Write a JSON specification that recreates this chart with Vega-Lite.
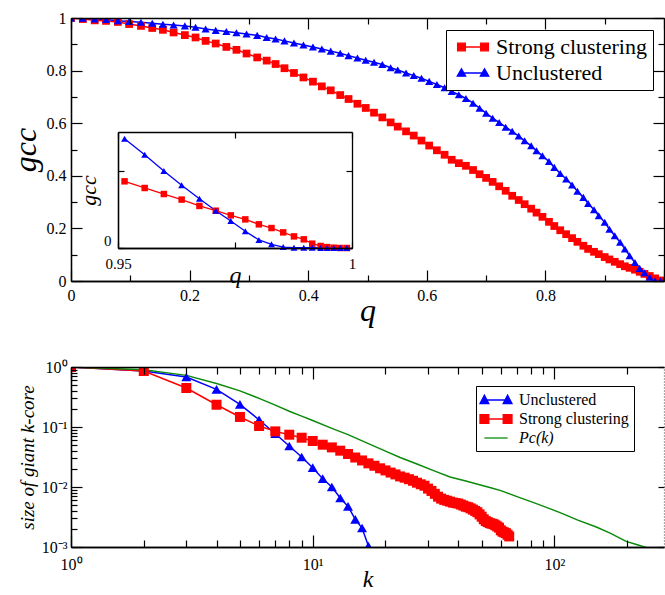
{
  "$schema": "https://vega.github.io/schema/vega-lite/v6.json",
  "background": "white",
  "padding": {"left": 9, "top": 10, "right": 0, "bottom": 0},
  "config": {
    "view": {"stroke": null},
    "font": "Liberation Serif",
    "axis": {"grid": false, "domainColor": "black", "domainWidth": 1.3, "labelColor": "black", "titleColor": "black", "labelFont": "Liberation Serif", "titleFont": "Liberation Serif", "titleFontWeight": "normal", "titleFontStyle": "italic", "labelOverlap": false, "labelFlush": false},
    "legend": {"labelFont": "Liberation Serif", "labelColor": "black"}
  },
  "datasets": {
    "topdata": [
      {"q":0,"Strong clustering":1,"Unclustered":1},
      {"q":0.02,"Strong clustering":0.996,"Unclustered":0.999},
      {"q":0.04,"Strong clustering":0.991,"Unclustered":0.996},
      {"q":0.059,"Strong clustering":0.989,"Unclustered":0.994},
      {"q":0.079,"Strong clustering":0.985,"Unclustered":0.99},
      {"q":0.098,"Strong clustering":0.977,"Unclustered":0.987},
      {"q":0.118,"Strong clustering":0.97,"Unclustered":0.984},
      {"q":0.137,"Strong clustering":0.962,"Unclustered":0.98},
      {"q":0.155,"Strong clustering":0.955,"Unclustered":0.976},
      {"q":0.173,"Strong clustering":0.945,"Unclustered":0.973},
      {"q":0.192,"Strong clustering":0.935,"Unclustered":0.97},
      {"q":0.21,"Strong clustering":0.926,"Unclustered":0.965},
      {"q":0.227,"Strong clustering":0.913,"Unclustered":0.958},
      {"q":0.244,"Strong clustering":0.903,"Unclustered":0.953},
      {"q":0.262,"Strong clustering":0.89,"Unclustered":0.949},
      {"q":0.279,"Strong clustering":0.879,"Unclustered":0.944},
      {"q":0.296,"Strong clustering":0.865,"Unclustered":0.939},
      {"q":0.314,"Strong clustering":0.85,"Unclustered":0.934},
      {"q":0.33,"Strong clustering":0.838,"Unclustered":0.926},
      {"q":0.345,"Strong clustering":0.825,"Unclustered":0.92},
      {"q":0.36,"Strong clustering":0.809,"Unclustered":0.913},
      {"q":0.376,"Strong clustering":0.791,"Unclustered":0.905},
      {"q":0.392,"Strong clustering":0.774,"Unclustered":0.897},
      {"q":0.408,"Strong clustering":0.758,"Unclustered":0.89},
      {"q":0.423,"Strong clustering":0.74,"Unclustered":0.882},
      {"q":0.438,"Strong clustering":0.725,"Unclustered":0.874},
      {"q":0.454,"Strong clustering":0.707,"Unclustered":0.866},
      {"q":0.468,"Strong clustering":0.692,"Unclustered":0.857},
      {"q":0.483,"Strong clustering":0.674,"Unclustered":0.848},
      {"q":0.497,"Strong clustering":0.658,"Unclustered":0.839},
      {"q":0.511,"Strong clustering":0.64,"Unclustered":0.832},
      {"q":0.525,"Strong clustering":0.622,"Unclustered":0.823},
      {"q":0.539,"Strong clustering":0.603,"Unclustered":0.811},
      {"q":0.551,"Strong clustering":0.587,"Unclustered":0.802},
      {"q":0.565,"Strong clustering":0.569,"Unclustered":0.791},
      {"q":0.578,"Strong clustering":0.553,"Unclustered":0.781},
      {"q":0.591,"Strong clustering":0.534,"Unclustered":0.771},
      {"q":0.604,"Strong clustering":0.515,"Unclustered":0.759},
      {"q":0.617,"Strong clustering":0.497,"Unclustered":0.747},
      {"q":0.63,"Strong clustering":0.48,"Unclustered":0.735},
      {"q":0.642,"Strong clustering":0.461,"Unclustered":0.721},
      {"q":0.654,"Strong clustering":0.448,"Unclustered":0.708},
      {"q":0.666,"Strong clustering":0.438,"Unclustered":0.694},
      {"q":0.678,"Strong clustering":0.422,"Unclustered":0.676},
      {"q":0.689,"Strong clustering":0.406,"Unclustered":0.657},
      {"q":0.7,"Strong clustering":0.392,"Unclustered":0.638},
      {"q":0.711,"Strong clustering":0.377,"Unclustered":0.619},
      {"q":0.722,"Strong clustering":0.36,"Unclustered":0.603},
      {"q":0.733,"Strong clustering":0.343,"Unclustered":0.585},
      {"q":0.744,"Strong clustering":0.324,"Unclustered":0.569},
      {"q":0.755,"Strong clustering":0.308,"Unclustered":0.551},
      {"q":0.765,"Strong clustering":0.292,"Unclustered":0.533},
      {"q":0.776,"Strong clustering":0.275,"Unclustered":0.514},
      {"q":0.785,"Strong clustering":0.26,"Unclustered":0.495},
      {"q":0.795,"Strong clustering":0.244,"Unclustered":0.476},
      {"q":0.806,"Strong clustering":0.225,"Unclustered":0.454},
      {"q":0.815,"Strong clustering":0.209,"Unclustered":0.432},
      {"q":0.825,"Strong clustering":0.193,"Unclustered":0.409},
      {"q":0.835,"Strong clustering":0.178,"Unclustered":0.388},
      {"q":0.845,"Strong clustering":0.163,"Unclustered":0.365},
      {"q":0.854,"Strong clustering":0.149,"Unclustered":0.341},
      {"q":0.864,"Strong clustering":0.134,"Unclustered":0.318},
      {"q":0.872,"Strong clustering":0.122,"Unclustered":0.295},
      {"q":0.882,"Strong clustering":0.111,"Unclustered":0.271},
      {"q":0.89,"Strong clustering":0.102,"Unclustered":0.248},
      {"q":0.9,"Strong clustering":0.091,"Unclustered":0.223},
      {"q":0.908,"Strong clustering":0.082,"Unclustered":0.197},
      {"q":0.917,"Strong clustering":0.073,"Unclustered":0.172},
      {"q":0.926,"Strong clustering":0.064,"Unclustered":0.147},
      {"q":0.934,"Strong clustering":0.056,"Unclustered":0.122},
      {"q":0.942,"Strong clustering":0.05,"Unclustered":0.096},
      {"q":0.951,"Strong clustering":0.043,"Unclustered":0.07},
      {"q":0.959,"Strong clustering":0.035,"Unclustered":0.048},
      {"q":0.967,"Strong clustering":0.027,"Unclustered":0.031},
      {"q":0.976,"Strong clustering":0.019,"Unclustered":0.014},
      {"q":0.985,"Strong clustering":0.01,"Unclustered":0.001},
      {"q":0.994,"Strong clustering":0.002,"Unclustered":0},
      {"q":1,"Strong clustering":0,"Unclustered":0}
    ],
    "insetdata": [
      {"q":0.9514,"Strong clustering":0.0431,"Unclustered":0.0707},
      {"q":0.9557,"Strong clustering":0.0388,"Unclustered":0.0603},
      {"q":0.9598,"Strong clustering":0.0349,"Unclustered":0.0498},
      {"q":0.9636,"Strong clustering":0.0313,"Unclustered":0.0405},
      {"q":0.9674,"Strong clustering":0.0272,"Unclustered":0.0319},
      {"q":0.9709,"Strong clustering":0.0241,"Unclustered":0.0241},
      {"q":0.9741,"Strong clustering":0.0211,"Unclustered":0.0175},
      {"q":0.9772,"Strong clustering":0.0185,"Unclustered":0.0108},
      {"q":0.9801,"Strong clustering":0.0153,"Unclustered":0.0052},
      {"q":0.9828,"Strong clustering":0.0129,"Unclustered":0.0024},
      {"q":0.9853,"Strong clustering":0.0101,"Unclustered":0.0006},
      {"q":0.9876,"Strong clustering":0.0075,"Unclustered":0.0002},
      {"q":0.9897,"Strong clustering":0.0056,"Unclustered":0.0002},
      {"q":0.9915,"Strong clustering":0.0028,"Unclustered":0.0002},
      {"q":0.9933,"Strong clustering":0.0013,"Unclustered":0},
      {"q":0.9947,"Strong clustering":0.0006,"Unclustered":0},
      {"q":0.9961,"Strong clustering":0.0002,"Unclustered":0},
      {"q":0.9975,"Strong clustering":0,"Unclustered":0},
      {"q":0.9989,"Strong clustering":0,"Unclustered":0}
    ],
    "botdata": [
      {"s":"Unclustered","k":1,"v":1},{"s":"Unclustered","k":2,"v":0.86},{"s":"Unclustered","k":3,"v":0.681},{"s":"Unclustered","k":4,"v":0.423},{"s":"Unclustered","k":5,"v":0.238},{"s":"Unclustered","k":6,"v":0.132},{"s":"Unclustered","k":7,"v":0.0773},{"s":"Unclustered","k":8,"v":0.0482},{"s":"Unclustered","k":9,"v":0.0316},{"s":"Unclustered","k":10,"v":0.021},{"s":"Unclustered","k":11,"v":0.01375},{"s":"Unclustered","k":12,"v":0.01},{"s":"Unclustered","k":13,"v":0.00656},{"s":"Unclustered","k":14,"v":0.00475},{"s":"Unclustered","k":15,"v":0.00289},{"s":"Unclustered","k":16,"v":0.00207},{"s":"Unclustered","k":17,"v":0.00104},
      {"s":"Strong clustering","k":1,"v":1},{"s":"Strong clustering","k":2,"v":0.858},{"s":"Strong clustering","k":3,"v":0.447},{"s":"Strong clustering","k":4,"v":0.235},{"s":"Strong clustering","k":5,"v":0.147},{"s":"Strong clustering","k":6,"v":0.104},{"s":"Strong clustering","k":7,"v":0.0845},{"s":"Strong clustering","k":8,"v":0.0744},{"s":"Strong clustering","k":9,"v":0.0663},{"s":"Strong clustering","k":10,"v":0.0584},
      {"s":"Strong clustering","k":11,"v":0.0507},{"s":"Strong clustering","k":12,"v":0.0457},{"s":"Strong clustering","k":13,"v":0.0403},{"s":"Strong clustering","k":14,"v":0.0355},{"s":"Strong clustering","k":15,"v":0.031},{"s":"Strong clustering","k":16,"v":0.0277},{"s":"Strong clustering","k":17,"v":0.0248},{"s":"Strong clustering","k":18,"v":0.0226},{"s":"Strong clustering","k":19,"v":0.0205},{"s":"Strong clustering","k":20,"v":0.0189},
      {"s":"Strong clustering","k":21,"v":0.0174},{"s":"Strong clustering","k":22,"v":0.0162},{"s":"Strong clustering","k":23,"v":0.015},{"s":"Strong clustering","k":24,"v":0.0143},{"s":"Strong clustering","k":25,"v":0.0135},{"s":"Strong clustering","k":26,"v":0.0127},{"s":"Strong clustering","k":27,"v":0.0118},{"s":"Strong clustering","k":28,"v":0.0111},{"s":"Strong clustering","k":29,"v":0.0105},{"s":"Strong clustering","k":30,"v":0.0094},
      {"s":"Strong clustering","k":31,"v":0.0086},{"s":"Strong clustering","k":32,"v":0.0077},{"s":"Strong clustering","k":33,"v":0.0069},{"s":"Strong clustering","k":34,"v":0.0064},{"s":"Strong clustering","k":35,"v":0.0061},{"s":"Strong clustering","k":36,"v":0.0059},{"s":"Strong clustering","k":37,"v":0.0057},{"s":"Strong clustering","k":38,"v":0.0055},{"s":"Strong clustering","k":39,"v":0.0054},{"s":"Strong clustering","k":40,"v":0.0053},
      {"s":"Strong clustering","k":41,"v":0.0051},{"s":"Strong clustering","k":42,"v":0.0049},{"s":"Strong clustering","k":43,"v":0.0047},{"s":"Strong clustering","k":44,"v":0.0046},{"s":"Strong clustering","k":45,"v":0.0044},{"s":"Strong clustering","k":46,"v":0.0042},{"s":"Strong clustering","k":47,"v":0.004},{"s":"Strong clustering","k":48,"v":0.0038},{"s":"Strong clustering","k":49,"v":0.0035},{"s":"Strong clustering","k":50,"v":0.0032},
      {"s":"Strong clustering","k":51,"v":0.0029},{"s":"Strong clustering","k":52,"v":0.0027},{"s":"Strong clustering","k":53,"v":0.0026},{"s":"Strong clustering","k":54,"v":0.0025},{"s":"Strong clustering","k":55,"v":0.00245},{"s":"Strong clustering","k":56,"v":0.0024},{"s":"Strong clustering","k":57,"v":0.0023},{"s":"Strong clustering","k":58,"v":0.0022},{"s":"Strong clustering","k":59,"v":0.0021},{"s":"Strong clustering","k":60,"v":0.0019},
      {"s":"Strong clustering","k":61,"v":0.0018},{"s":"Strong clustering","k":62,"v":0.00175},{"s":"Strong clustering","k":63,"v":0.0017},{"s":"Strong clustering","k":64,"v":0.0016},{"s":"Strong clustering","k":65,"v":0.0015},
      {"s":"Pc(k)","k":1,"v":1},{"s":"Pc(k)","k":2,"v":0.9},{"s":"Pc(k)","k":3,"v":0.725},{"s":"Pc(k)","k":4,"v":0.53},{"s":"Pc(k)","k":5,"v":0.4},{"s":"Pc(k)","k":6,"v":0.3},{"s":"Pc(k)","k":7,"v":0.232},{"s":"Pc(k)","k":8,"v":0.183},{"s":"Pc(k)","k":9,"v":0.152},{"s":"Pc(k)","k":10,"v":0.128},{"s":"Pc(k)","k":12,"v":0.095},{"s":"Pc(k)","k":14,"v":0.0745},{"s":"Pc(k)","k":17,"v":0.0528},{"s":"Pc(k)","k":20,"v":0.0397},{"s":"Pc(k)","k":23,"v":0.031},{"s":"Pc(k)","k":27,"v":0.0242},{"s":"Pc(k)","k":32,"v":0.0184},{"s":"Pc(k)","k":37,"v":0.0147},{"s":"Pc(k)","k":43,"v":0.0126},{"s":"Pc(k)","k":49,"v":0.0109},{"s":"Pc(k)","k":55,"v":0.0096},{"s":"Pc(k)","k":60,"v":0.0087},{"s":"Pc(k)","k":70,"v":0.0069},{"s":"Pc(k)","k":81,"v":0.0056},{"s":"Pc(k)","k":95,"v":0.0044},{"s":"Pc(k)","k":108,"v":0.0036},{"s":"Pc(k)","k":125,"v":0.0028},{"s":"Pc(k)","k":149,"v":0.00215},{"s":"Pc(k)","k":170,"v":0.0017},{"s":"Pc(k)","k":198,"v":0.00124},{"s":"Pc(k)","k":215,"v":0.00112},{"s":"Pc(k)","k":236,"v":0.001},{"s":"Pc(k)","k":250,"v":0.00092}
    ]
  },
  "vconcat": [
    {
      "width": 593,
      "height": 263,
      "layer": [
        {
          "data": {"name": "topdata"},
          "transform": [{"fold": ["Strong clustering", "Unclustered"], "as": ["s", "gcc"]}],
          "mark": {"type": "line", "strokeWidth": 1.5, "clip": true},
          "encoding": {
            "x": {"field": "q", "type": "quantitative", "scale": {"domain": [0, 1], "nice": false},
              "axis": {"orient": "bottom", "values": [0,0.1,0.2,0.3,0.4,0.5,0.6,0.7,0.8,0.9,1], "format": "~g", "labelExpr": "(round(datum.value*10)%2==0 && datum.value<0.99) ? datum.label : ''", "ticks": false, "labelPadding": 6, "labelFont": "Liberation Serif", "labelFontSize": 16, "title": "q", "titleFontSize": 32, "titlePadding": -8}},
            "y": {"field": "gcc", "type": "quantitative", "scale": {"domain": [0, 1], "nice": false},
              "axis": {"orient": "left", "values": [0,0.1,0.2,0.3,0.4,0.5,0.6,0.7,0.8,0.9,1], "format": "~g", "labelExpr": "round(datum.value*10)%2==0 ? datum.label : ''", "ticks": false, "labelPadding": 5, "labelFont": "Liberation Serif", "labelFontSize": 16, "title": "gcc", "titleFontSize": 32, "titlePadding": 4}},
            "color": {"field": "s", "type": "nominal", "scale": {"domain": ["Strong clustering", "Unclustered"], "range": ["#ff0000", "#0000ff"]},
              "legend": {"orient": "none", "legendX": 375, "legendY": 12, "title": null, "fillColor": "white", "strokeColor": "black", "padding": 6, "labelFont": "Liberation Serif", "labelFontSize": 22, "symbolSize": 196, "rowPadding": 4, "symbolOffset": 10, "labelOffset": 12,
                "encode": {"symbols": {"update": {
                  "shape": {"signal": "datum.value === 'Unclustered' ? 'M-1.65,0H1.65M-2.25,0.45L-1.65,-0.6L-1.05,0.45ZM1.05,0.45L1.65,-0.6L2.25,0.45Z' : 'M-1.65,0H1.65M-2.2,-0.55H-1.1V0.55H-2.2ZM1.1,-0.55H2.2V0.55H1.1Z'"},
                  "fill": {"signal": "datum.value === 'Unclustered' ? '#0000ff' : '#ff0000'"},
                  "stroke": {"signal": "datum.value === 'Unclustered' ? '#0000ff' : '#ff0000'"},
                  "strokeWidth": {"value": 1.3}, "opacity": {"value": 1}, "fillOpacity": {"value": 1}}}}}}
          }
        },
        {
          "data": {"name": "topdata"},
          "transform": [{"fold": ["Strong clustering", "Unclustered"], "as": ["s", "gcc"]}, {"filter": "datum.s == 'Strong clustering'"}],
          "mark": {"type": "point", "shape": "square", "filled": true, "opacity": 1, "size": 60, "color": "#ff0000", "clip": true},
          "encoding": {
            "x": {"field": "q", "type": "quantitative", "scale": {"domain": [0, 1], "nice": false},
              "axis": {"orient": "top", "offset": -263, "values": [0,0.1,0.2,0.3,0.4,0.5,0.6,0.7,0.8,0.9,1], "labels": false, "ticks": true, "tickColor": "black", "tickWidth": 1.2, "zindex": 1, "tickSize": {"condition": {"test": "round(datum.value*10)%2==0", "value": 11}, "value": 6}, "title": null}},
            "y": {"field": "gcc", "type": "quantitative", "scale": {"domain": [0, 1], "nice": false},
              "axis": {"orient": "right", "offset": -593, "values": [0,0.1,0.2,0.3,0.4,0.5,0.6,0.7,0.8,0.9,1], "labels": false, "ticks": true, "tickColor": "black", "tickWidth": 1.2, "zindex": 1, "tickSize": {"condition": {"test": "round(datum.value*10)%2==0", "value": 11}, "value": 6}, "title": null}}
          }
        },
        {
          "data": {"name": "topdata"},
          "transform": [{"fold": ["Strong clustering", "Unclustered"], "as": ["s", "gcc"]}, {"filter": "datum.s == 'Unclustered'"}],
          "mark": {"type": "point", "shape": "triangle-up", "filled": true, "opacity": 1, "size": 66, "color": "#0000ff", "clip": true},
          "encoding": {
            "x": {"field": "q", "type": "quantitative", "scale": {"domain": [0, 1], "nice": false},
              "axis": {"orient": "bottom", "offset": -263, "values": [0,0.1,0.2,0.3,0.4,0.5,0.6,0.7,0.8,0.9,1], "labels": false, "ticks": true, "tickColor": "black", "tickWidth": 1.2, "zindex": 1, "tickSize": {"condition": {"test": "round(datum.value*10)%2==0", "value": 11}, "value": 6}, "title": null}},
            "y": {"field": "gcc", "type": "quantitative", "scale": {"domain": [0, 1], "nice": false},
              "axis": {"orient": "left", "offset": -593, "values": [0,0.1,0.2,0.3,0.4,0.5,0.6,0.7,0.8,0.9,1], "labels": false, "ticks": true, "tickColor": "black", "tickWidth": 1.2, "zindex": 1, "tickSize": {"condition": {"test": "round(datum.value*10)%2==0", "value": 11}, "value": 6}, "title": null}}
          }
        },
        {
          "data": {"name": "insetdata"},
          "transform": [{"fold": ["Strong clustering", "Unclustered"], "as": ["s", "gcc"]}],
          "mark": {"type": "line", "strokeWidth": 1.3, "clip": true},
          "encoding": {
            "x": {"field": "q", "type": "quantitative", "scale": {"domain": [0.95, 1], "range": [47, 281], "nice": false, "zero": false},
              "axis": {"orient": "bottom", "offset": -33, "values": [0.95, 0.975, 1], "labelExpr": "datum.value < 0.96 ? '0.95' : (datum.value > 0.99 ? '1' : '')", "ticks": false, "labelPadding": 8, "labelFont": "Liberation Serif", "labelFontSize": 15, "title": "q", "titleFontSize": 24, "titlePadding": -8}},
            "y": {"field": "gcc", "type": "quantitative", "scale": {"domain": [0, 0.075], "range": [230, 114], "nice": false},
              "axis": {"orient": "left", "offset": -47, "values": [0, 0.05], "labelExpr": "datum.value == 0 ? '0' : ''", "ticks": false, "labelPadding": 7, "labelBaseline": "bottom", "labelFont": "Liberation Serif", "labelFontSize": 15, "title": "gcc", "titleFontSize": 22, "titlePadding": 3}},
            "color": {"field": "s", "type": "nominal"}
          }
        },
        {
          "data": {"name": "insetdata"},
          "transform": [{"fold": ["Strong clustering", "Unclustered"], "as": ["s", "gcc"]}, {"filter": "datum.s == 'Strong clustering'"}],
          "mark": {"type": "point", "shape": "square", "filled": true, "opacity": 1, "size": 42, "color": "#ff0000", "clip": true},
          "encoding": {
            "x": {"field": "q", "type": "quantitative", "scale": {"domain": [0.95, 1], "range": [47, 281], "nice": false, "zero": false},
              "axis": {"orient": "top", "offset": -230, "values": [0.95, 0.975, 1], "labels": false, "ticks": true, "tickColor": "black", "tickWidth": 1.2, "zindex": 1, "tickSize": 6, "title": null}},
            "y": {"field": "gcc", "type": "quantitative", "scale": {"domain": [0, 0.075], "range": [230, 114], "nice": false},
              "axis": {"orient": "right", "offset": -546, "values": [0, 0.05], "labels": false, "ticks": true, "tickColor": "black", "tickWidth": 1.2, "zindex": 1, "tickSize": 6, "title": null}}
          }
        },
        {
          "data": {"name": "insetdata"},
          "transform": [{"fold": ["Strong clustering", "Unclustered"], "as": ["s", "gcc"]}, {"filter": "datum.s == 'Unclustered'"}],
          "mark": {"type": "point", "shape": "triangle-up", "filled": true, "opacity": 1, "size": 48, "color": "#0000ff", "clip": true},
          "encoding": {
            "x": {"field": "q", "type": "quantitative", "scale": {"domain": [0.95, 1], "range": [47, 281], "nice": false, "zero": false},
              "axis": {"orient": "bottom", "offset": -149, "values": [0.95, 0.975, 1], "labels": false, "ticks": true, "tickColor": "black", "tickWidth": 1.2, "zindex": 1, "tickSize": 6, "title": null}},
            "y": {"field": "gcc", "type": "quantitative", "scale": {"domain": [0, 0.075], "range": [230, 114], "nice": false},
              "axis": {"orient": "left", "offset": -281, "values": [0, 0.05], "labels": false, "ticks": true, "tickColor": "black", "tickWidth": 1.2, "zindex": 1, "tickSize": 6, "title": null}}
          }
        }
      ],
      "resolve": {"scale": {"x": "independent", "y": "independent"}, "axis": {"x": "independent", "y": "independent"}}
    },
    {
      "width": 593,
      "height": 180,
      "layer": [
        {
          "data": {"name": "botdata"},
          "mark": {"type": "line", "strokeWidth": 1.5, "clip": true},
          "encoding": {
            "x": {"field": "k", "type": "quantitative", "scale": {"type": "log", "domain": [1, 284], "nice": false},
              "axis": {"orient": "bottom", "values": [1,10,100], "labelExpr": "datum.value == 1 ? '10⁰' : (datum.value == 10 ? '10¹' : '10²')", "ticks": false, "labelPadding": 9, "labelFont": "Liberation Serif", "labelFontSize": 16, "title": "k", "titleFontSize": 24, "titlePadding": -5}},
            "y": {"field": "v", "type": "quantitative", "scale": {"type": "log", "domain": [0.001, 1], "nice": false},
              "axis": {"orient": "left", "values": [0.001,0.01,0.1,1], "labelExpr": "datum.value > 0.5 ? '10⁰' : (datum.value > 0.05 ? '10⁻¹' : (datum.value > 0.005 ? '10⁻²' : '10⁻³'))", "ticks": false, "labelPadding": 4, "labelFont": "Liberation Serif", "labelFontSize": 16, "title": "size of giant k-core", "titleFontSize": 19, "titlePadding": 4}},
            "color": {"field": "s", "type": "nominal", "scale": {"domain": ["Unclustered", "Strong clustering", "Pc(k)"], "range": ["#0000ff", "#ff0000", "#0a8a0a"]},
              "legend": {"orient": "none", "legendX": 405, "legendY": 19, "title": null, "fillColor": "white", "strokeColor": "black", "padding": 5, "labelFont": "Liberation Serif", "labelFontSize": 16, "symbolSize": 256, "rowPadding": 2, "symbolOffset": 6, "labelOffset": 14,
                "encode": {
                  "symbols": {"update": {
                    "shape": {"signal": "datum.value === 'Unclustered' ? 'M-1.45,0H1.45M-2,0.45L-1.45,-0.6L-0.9,0.45ZM0.9,0.45L1.45,-0.6L2,0.45Z' : (datum.value === 'Strong clustering' ? 'M-1.45,0H1.45M-2,-0.55H-0.9V0.55H-2ZM0.9,-0.55H2V0.55H0.9Z' : 'M-1.45,0H1.45')"},
                    "fill": {"signal": "datum.value === 'Unclustered' ? '#0000ff' : (datum.value === 'Strong clustering' ? '#ff0000' : '#0a8a0a')"},
                    "stroke": {"signal": "datum.value === 'Unclustered' ? '#0000ff' : (datum.value === 'Strong clustering' ? '#ff0000' : '#0a8a0a')"},
                    "strokeWidth": {"value": 1.3}, "opacity": {"value": 1}, "fillOpacity": {"value": 1}}},
                  "labels": {"update": {"fontStyle": {"signal": "datum.value === 'Pc(k)' ? 'italic' : 'normal'"}}}
                }}}
          }
        },
        {
          "data": {"name": "botdata"},
          "transform": [{"filter": "datum.s == 'Unclustered'"}],
          "mark": {"type": "point", "shape": "triangle-up", "filled": true, "opacity": 1, "size": 100, "color": "#0000ff", "clip": true},
          "encoding": {
            "x": {"field": "k", "type": "quantitative", "scale": {"type": "log", "domain": [1, 284], "nice": false},
              "axis": {"orient": "top", "offset": -180, "values": [1,2,3,4,5,6,7,8,9,10,20,30,40,50,60,70,80,90,100,200], "labels": false, "ticks": true, "tickColor": "black", "tickWidth": 1.2, "zindex": 1, "tickSize": {"condition": {"test": "datum.value == 1 || datum.value == 10 || datum.value == 100", "value": 12}, "value": 7}, "title": null}},
            "y": {"field": "v", "type": "quantitative", "scale": {"type": "log", "domain": [0.001, 1], "nice": false},
              "axis": {"orient": "right", "offset": -593, "values": [0.001,0.002,0.003,0.004,0.005,0.006,0.007,0.008,0.009,0.01,0.02,0.03,0.04,0.05,0.06,0.07,0.08,0.09,0.1,0.2,0.3,0.4,0.5,0.6,0.7,0.8,0.9,1], "labels": false, "ticks": true, "tickColor": "black", "tickWidth": 1.2, "zindex": 1, "tickSize": {"condition": {"test": "abs(log(datum.value)/LN10 - round(log(datum.value)/LN10)) < 1e-6", "value": 11}, "value": 6}, "title": null}}
          }
        },
        {
          "data": {"name": "botdata"},
          "transform": [{"filter": "datum.s == 'Strong clustering'"}],
          "mark": {"type": "point", "shape": "square", "filled": true, "opacity": 1, "size": 100, "color": "#ff0000", "clip": true},
          "encoding": {
            "x": {"field": "k", "type": "quantitative", "scale": {"type": "log", "domain": [1, 284], "nice": false},
              "axis": {"orient": "bottom", "offset": -180, "values": [1,2,3,4,5,6,7,8,9,10,20,30,40,50,60,70,80,90,100,200], "labels": false, "ticks": true, "tickColor": "black", "tickWidth": 1.2, "zindex": 1, "tickSize": {"condition": {"test": "datum.value == 1 || datum.value == 10 || datum.value == 100", "value": 12}, "value": 7}, "title": null}},
            "y": {"field": "v", "type": "quantitative", "scale": {"type": "log", "domain": [0.001, 1], "nice": false},
              "axis": {"orient": "left", "offset": -593, "values": [0.001,0.01,0.1,1], "labels": false, "ticks": true, "tickColor": "black", "tickWidth": 1.2, "zindex": 1, "tickSize": 6, "title": null, "domainDash": [1, 2], "domainColor": "#555555"}}
          }
        }
      ],
      "resolve": {"scale": {"x": "independent", "y": "independent"}, "axis": {"x": "independent", "y": "independent"}}
    }
  ],
  "spacing": 86,
  "bounds": "flush",
  "resolve": {"scale": {"x": "independent", "y": "independent", "color": "independent"}, "legend": {"color": "independent"}}
}
